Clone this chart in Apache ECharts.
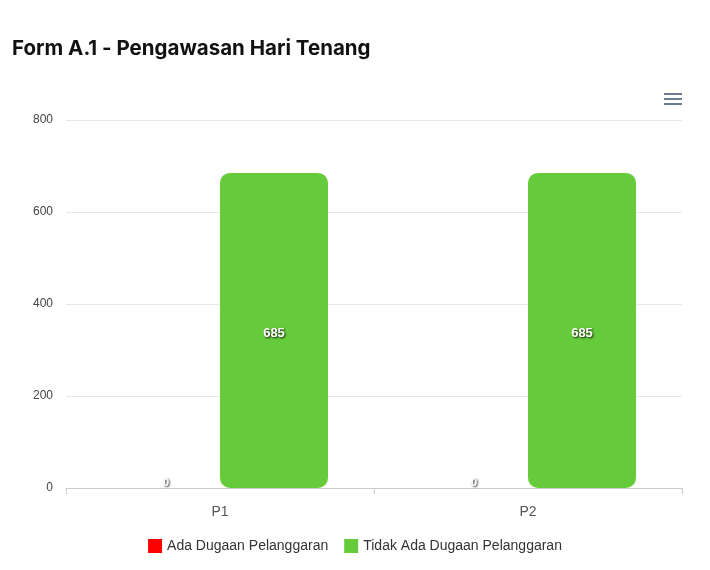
<!DOCTYPE html>
<html><head><meta charset="utf-8">
<script src="https://cdn.jsdelivr.net/npm/echarts@6/dist/echarts.min.js"></script>
<style>html,body{margin:0;padding:0;background:#fff}#c{width:710px;height:570px}</style>
</head><body><div id="c"></div>
<script>
var categories = ['P1', 'P2'];
var seriesNames = ['Ada Dugaan Pelanggaran', 'Tidak Ada Dugaan Pelanggaran'];
var adaValues = [0, 0];
var tidakValues = [685, 685];
var yTicks = [0, 200, 400, 600, 800];

var chart = echarts.init(document.getElementById('c'));
var labelStyle = {
  show: true, position: 'inside', color: '#fff', fontWeight: 'bold', fontSize: 13,
  fontFamily: 'Liberation Sans, Arial, sans-serif', offset: [0, 3],
  textBorderColor: 'transparent', textShadowColor: 'rgba(0,0,0,0.85)', textShadowBlur: 2, textShadowOffsetX: 1, textShadowOffsetY: 1
};
chart.setOption({
  animation: false,
  title: {
    text: 'Form A.1 - Pengawasan Hari Tenang', left: 7, top: 33,
    textStyle: { fontFamily: 'Inter, sans-serif', fontWeight: 'bold', fontSize: 20.5, color: '#111' }
  },
  graphic: [
    { type: 'rect', left: 664, top: 93, shape: { width: 18, height: 2 }, style: { fill: '#6e7a8e' } },
    { type: 'rect', left: 664, top: 98, shape: { width: 18, height: 2 }, style: { fill: '#6e7a8e' } },
    { type: 'rect', left: 664, top: 103, shape: { width: 18, height: 2 }, style: { fill: '#6e7a8e' } }
  ],
  legend: {
    top: 534, left: 'center', itemWidth: 14, itemHeight: 14, itemGap: 16,
    icon: 'rect',
    textStyle: { fontFamily: 'Liberation Sans, Arial, sans-serif', fontSize: 14, color: '#333' },
    data: seriesNames
  },
  grid: { left: 66, right: 28, top: 120, bottom: 82, containLabel: false },
  xAxis: {
    type: 'category', data: categories,
    axisLine: { lineStyle: { color: '#ccc' } },
    axisTick: { show: true, alignWithLabel: false, lineStyle: { color: '#ccc' }, length: 6 },
    axisLabel: { color: '#555', fontSize: 14, margin: 17, fontFamily: 'Liberation Sans, Arial, sans-serif' }
  },
  yAxis: {
    type: 'value', min: yTicks[0], max: yTicks[yTicks.length - 1], interval: 200,
    axisLine: { show: false }, axisTick: { show: false },
    splitLine: { lineStyle: { color: '#e6e6e6' } },
    axisLabel: { color: '#444', fontSize: 12, margin: 13, fontFamily: 'Liberation Sans, Arial, sans-serif' }
  },
  series: [
    {
      name: seriesNames[0], type: 'bar', data: adaValues, barWidth: 108, barGap: '0%',
      itemStyle: { color: '#ff0000', borderRadius: 10 },
      label: Object.assign({}, labelStyle, { position: 'top', distance: 0, offset: [0, 0], fontSize: 11 })
    },
    {
      name: seriesNames[1], type: 'bar', data: tidakValues, barWidth: 108,
      itemStyle: { color: '#66cb3b', borderRadius: 10 },
      label: labelStyle
    }
  ]
});
</script></body></html>
